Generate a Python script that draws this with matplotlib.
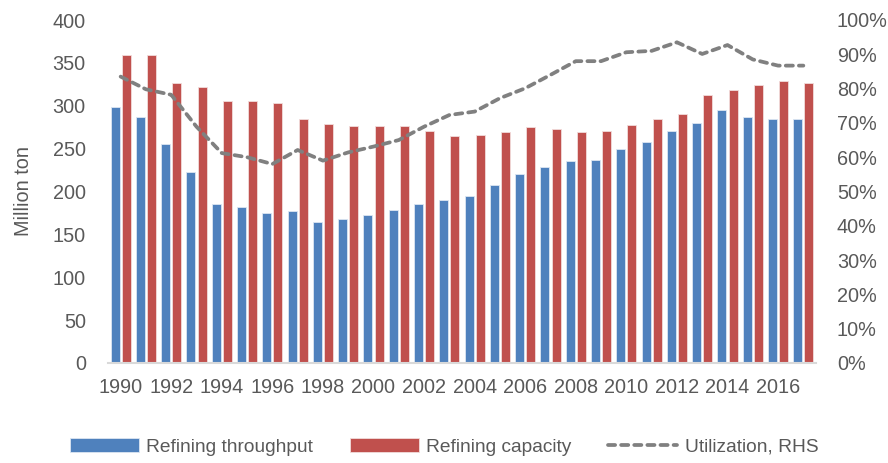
import numpy as np
import matplotlib
matplotlib.use("Agg")
import matplotlib.pyplot as plt
from matplotlib.ticker import PercentFormatter

plt.rcParams['font.family'] = ['Liberation Sans', 'DejaVu Sans']

# Daten
years = list(range(1990, 2018))
throughput = [298, 287, 255, 223, 186, 182, 175, 177, 164, 168,
              173, 178, 185, 190, 195, 208, 220, 229, 236, 237,
              249, 258, 271, 280, 295, 287, 284, 284]
capacity = [359, 359, 327, 322, 305, 305, 303, 285, 279, 276,
            276, 276, 271, 265, 266, 269, 275, 273, 269, 270,
            277, 285, 290, 312, 318, 324, 329, 327]
utilization = [83.5, 79.8, 78.2, 68.9, 61.2, 60.0, 58.0, 62.1, 59.0, 61.4,
               63.1, 65.0, 68.9, 72.3, 73.3, 77.2, 80.1, 84.0, 88.0, 88.0,
               90.6, 91.0, 93.5, 90.1, 92.7, 88.5, 86.7, 86.7]
tick_years = years[::2]

blue = "#4F81BD"
red = "#C0504D"
grey_txt = "#595959"
fs = 14.3

fig = plt.figure(figsize=(8.88, 4.63), dpi=100)
ax = fig.add_axes([108/888, 1-363/463, 708/888, 343/463])
ax2 = ax.twinx()

x = np.arange(len(years))
w = 0.36
ax.bar(x - 0.22, throughput, width=w, color=blue, edgecolor="#dce6f2", linewidth=0.6,
       label="Refining throughput", zorder=2)
ax.bar(x + 0.22, capacity, width=w, color=red, edgecolor="#f2dcdb", linewidth=0.6,
       label="Refining capacity", zorder=2)
line, = ax2.plot(x, utilization, color="#808080", lw=2.7, dashes=(1.9, 1.6),
                 dash_capstyle="round", label="Utilization, RHS")

ax.set_xlim(-0.5, len(years) - 0.5)
ax.set_ylim(0, 400)
ax.set_yticks(range(0, 401, 50))
ax2.set_ylim(0, 100)
ax2.set_yticks(range(0, 101, 10))
ax2.yaxis.set_major_formatter(PercentFormatter(decimals=0))

ax.set_xticks(x[::2])
ax.set_xticklabels([str(y) for y in tick_years])

for a in (ax, ax2):
    for s in a.spines.values():
        s.set_visible(False)
    a.tick_params(length=0, labelsize=fs, colors=grey_txt)
ax.spines["bottom"].set_visible(True)
ax.spines["bottom"].set_color("#d9d9d9")
ax.spines["bottom"].set_linewidth(1.5)
ax.tick_params(axis="x", pad=11)
ax.tick_params(axis="y", pad=16)
ax2.tick_params(axis="y", pad=15)

ax.set_ylabel("Million ton", fontsize=fs, color=grey_txt, labelpad=14)

handles = [ax.containers[0], ax.containers[1], line]
fig.legend(handles, [h.get_label() for h in handles], loc="center",
           bbox_to_anchor=(0.5, 1-447/463), ncol=3, frameon=False,
           fontsize=13.8, labelcolor=grey_txt, handlelength=3.6, handleheight=0.7,
           columnspacing=1.9, handletextpad=0.4)

fig.savefig("out.png", dpi=100)
